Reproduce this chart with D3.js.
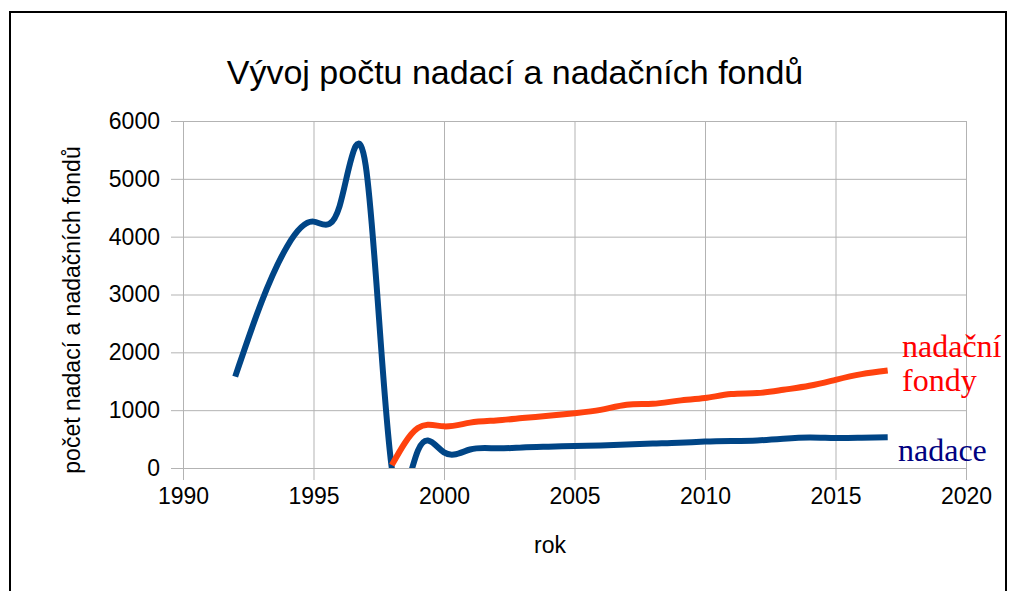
<!DOCTYPE html>
<html>
<head>
<meta charset="utf-8">
<script src="https://cdn.jsdelivr.net/npm/d3@7"></script>
<style>
  body { margin: 0; background: #fff; }
  svg { display: block; }
  .tick text { font-family: "Liberation Sans", Arial, sans-serif; }
</style>
</head>
<body>
<div id="chart"></div>
<script>
// roky a hodnoty
const years = [1992, 1993, 1994, 1995, 1996, 1997, 1998, 1999, 2000, 2001, 2002, 2003, 2004,
               2005, 2006, 2007, 2008, 2009, 2010, 2011, 2012, 2013, 2014, 2015, 2016, 2017];
const nadace = [1580, 2860, 3840, 4260, 4530, 5230, 0, 300, 270, 320, 340, 355, 368,
                380, 390, 405, 422, 435, 458, 468, 477, 505, 528, 518, 523, 530];
const nadacniFondy = [null, null, null, null, null, null, 50, 690, 720, 785, 823, 863, 903,
                      948, 1005, 1095, 1110, 1165, 1210, 1278, 1295, 1352, 1421, 1525, 1623, 1686];
const xTicks = [1990, 1995, 2000, 2005, 2010, 2015, 2020];
const yTicks = [0, 1000, 2000, 3000, 4000, 5000, 6000];

const W = 1009, H = 591;
const plot = { left: 183, right: 966, top: 121, bottom: 468 };

const svg = d3.select('#chart').append('svg')
    .attr('width', W)
    .attr('height', H);

// rámeček
svg.append('rect')
    .attr('x', 10).attr('y', 12)
    .attr('width', 996).attr('height', 620)
    .attr('fill', 'none')
    .attr('stroke', '#000')
    .attr('stroke-width', 2);

const x = d3.scaleLinear().domain([1990, 2020]).range([plot.left, plot.right]);
const y = d3.scaleLinear().domain([0, 6000]).range([plot.bottom, plot.top]);

// mřížka
svg.append('g')
    .attr('transform', `translate(0,${plot.bottom})`)
    .call(d3.axisBottom(x).tickValues(xTicks).tickFormat(d3.format('d'))
        .tickSize(-(plot.bottom - plot.top)))
    .call(g => g.select('.domain').remove())
    .call(g => g.selectAll('.tick line').attr('stroke', '#b3b3b3').attr('y2', 12).attr('y1', -(plot.bottom - plot.top)))
    .call(g => g.selectAll('.tick text').attr('font-size', 23).attr('fill', '#000').attr('dy', '0.71em').attr('y', 20));

svg.append('g')
    .attr('transform', `translate(${plot.left},0)`)
    .call(d3.axisLeft(y).tickValues(yTicks).tickFormat(d3.format('d'))
        .tickSize(-(plot.right - plot.left)).tickPadding(23))
    .call(g => g.select('.domain').remove())
    .call(g => g.selectAll('.tick line').attr('stroke', '#b3b3b3').attr('x1', -12))
    .call(g => g.selectAll('.tick text').attr('font-size', 23).attr('fill', '#000'));

// čáry
svg.append('clipPath').attr('id', 'plotClip')
  .append('rect')
    .attr('x', plot.left).attr('y', plot.top)
    .attr('width', plot.right - plot.left).attr('height', plot.bottom - plot.top);

const series = [
    { name: 'nadace', values: nadace, color: '#004586' },
    { name: 'fondy', values: nadacniFondy, color: '#ff420e' }
];

const line = d3.line()
    .defined(d => d[1] != null)
    .x(d => x(d[0]))
    .y(d => y(d[1]))
    .curve(d3.curveNatural);

svg.append('g').attr('clip-path', 'url(#plotClip)')
  .selectAll('path')
  .data(series)
  .join('path')
    .attr('d', s => line(years.map((yr, i) => [yr, s.values[i]])))
    .attr('fill', 'none')
    .attr('stroke', s => s.color)
    .attr('stroke-width', 6)
    .attr('stroke-linejoin', 'round');

// popisky
const sans = '"Liberation Sans", Arial, sans-serif';
svg.append('text')
    .attr('x', 515).attr('y', 84)
    .attr('text-anchor', 'middle')
    .attr('font-family', sans)
    .attr('font-size', 34)
    .text('Vývoj počtu nadací a nadačních fondů');

svg.append('text')
    .attr('transform', 'translate(80,310) rotate(-90)')
    .attr('text-anchor', 'middle')
    .attr('font-family', sans)
    .attr('font-size', 23)
    .text('počet nadací a nadačních fondů');

svg.append('text')
    .attr('x', 550).attr('y', 553)
    .attr('text-anchor', 'middle')
    .attr('font-family', sans)
    .attr('font-size', 23)
    .text('rok');

const serif = '"Liberation Serif", "Times New Roman", serif';
const fondyLabel = svg.append('text')
    .attr('font-family', serif)
    .attr('font-size', 32)
    .attr('fill', '#ff0000');
fondyLabel.append('tspan').attr('x', 902).attr('y', 357).text('nadační');
fondyLabel.append('tspan').attr('x', 902).attr('y', 391).text('fondy');

svg.append('text')
    .attr('x', 898).attr('y', 461)
    .attr('font-family', serif)
    .attr('font-size', 32)
    .attr('fill', '#000080')
    .text('nadace');
</script>
</body>
</html>
